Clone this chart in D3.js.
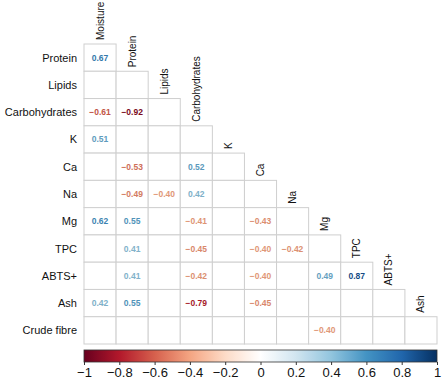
<!DOCTYPE html>
<html><head><meta charset="utf-8">
<script src="https://cdn.jsdelivr.net/npm/d3@7"></script>
<style>html,body{margin:0;padding:0;background:#fff;}svg{display:block;}</style>
</head><body>
<svg id="chart" width="445" height="389"></svg>
<script>
const columns = ["Moisture","Protein","Lipids","Carbohydrates","K","Ca","Na","Mg","TPC","ABTS+","Ash"];
const rows = ["Protein","Lipids","Carbohydrates","K","Ca","Na","Mg","TPC","ABTS+","Ash","Crude fibre"];
// significant correlations shown: [row, column, value]
const shownValues = [
  ["Protein","Moisture",0.67],
  ["Carbohydrates","Moisture",-0.61],["Carbohydrates","Protein",-0.92],
  ["K","Moisture",0.51],
  ["Ca","Protein",-0.53],["Ca","Carbohydrates",0.52],
  ["Na","Protein",-0.49],["Na","Lipids",-0.40],["Na","Carbohydrates",0.42],
  ["Mg","Moisture",0.62],["Mg","Protein",0.55],["Mg","Carbohydrates",-0.41],["Mg","Ca",-0.43],
  ["TPC","Protein",0.41],["TPC","Carbohydrates",-0.45],["TPC","Ca",-0.40],["TPC","Na",-0.42],
  ["ABTS+","Protein",0.41],["ABTS+","Carbohydrates",-0.42],["ABTS+","Ca",-0.40],["ABTS+","Mg",0.49],["ABTS+","TPC",0.87],
  ["Ash","Moisture",0.42],["Ash","Protein",0.55],["Ash","Carbohydrates",-0.79],["Ash","Ca",-0.45],
  ["Crude fibre","Mg",-0.40]
];
const colorTicks = [-1,-0.8,-0.6,-0.4,-0.2,0,0.2,0.4,0.6,0.8,1];
const paletteColors = ["#67001F","#B2182B","#D6604D","#F4A582","#FDDBC7","#FFFFFF","#D1E5F0","#92C5DE","#4393C3","#2166AC","#053061"];

(function () {
const svg = d3.select("#chart");
const gLeft = 84, gRight = 437, gTop = 44, gBottom = 344;
const x = d3.scaleBand().domain(columns).range([gLeft, gRight]);
const y = d3.scaleBand().domain(rows).range([gTop, gBottom]);
const color = d3.scaleLinear().domain(d3.range(11).map(i => -1 + i * 0.2)).range(paletteColors).clamp(true);
const textColor = v => d3.color(color(v)).darker(0.25);

const cells = [];
rows.forEach((r, i) => columns.forEach((c, j) => { if (j <= i) cells.push({r, c}); }));
svg.append("g").selectAll("rect").data(cells).join("rect")
  .attr("x", d => x(d.c)).attr("y", d => y(d.r))
  .attr("width", x.bandwidth()).attr("height", y.bandwidth())
  .attr("fill", "#fff").attr("stroke", "#cfcfcf").attr("stroke-width", 1);

svg.append("g").selectAll("text").data(shownValues).join("text")
  .attr("x", d => x(d[1]) + x.bandwidth() / 2)
  .attr("y", d => y(d[0]) + y.bandwidth() / 2)
  .attr("text-anchor", "middle").attr("dominant-baseline", "central")
  .attr("font-family", "Liberation Sans, Arial, sans-serif")
  .attr("font-size", 8.5).attr("font-weight", "bold")
  .attr("fill", d => textColor(d[2]))
  .text(d => d3.format(".2f")(d[2]).replace("-", "\u2212"));

svg.append("g").selectAll("text").data(rows).join("text")
  .attr("x", 77).attr("y", d => y(d) + y.bandwidth() / 2)
  .attr("text-anchor", "end").attr("dominant-baseline", "central")
  .attr("font-family", "Liberation Sans, Arial, sans-serif")
  .attr("font-size", 11).attr("fill", "#111")
  .text(d => d);

svg.append("g").selectAll("text").data(columns).join("text")
  .attr("transform", (d, j) => `translate(${x(d) + x.bandwidth() / 2},${y(rows[j]) - 4}) rotate(-90)`)
  .attr("text-anchor", "start").attr("dominant-baseline", "central")
  .attr("font-family", "Liberation Sans, Arial, sans-serif")
  .attr("font-size", 10).attr("fill", "#111")
  .text(d => d);

const cb = d3.scaleLinear().domain([-1, 1]).range([gLeft, gRight]);
const defs = svg.append("defs");
const grad = defs.append("linearGradient").attr("id", "cbgrad").attr("x1", "0%").attr("x2", "100%");
grad.selectAll("stop").data(d3.range(0, 101)).join("stop")
  .attr("offset", d => d + "%").attr("stop-color", d => color(-1 + d / 50));
const cbTop = 350, cbH = 12;
svg.append("rect").attr("x", cb(-1)).attr("y", cbTop).attr("width", cb(1) - cb(-1)).attr("height", cbH)
  .attr("fill", "url(#cbgrad)").attr("stroke", "#333").attr("stroke-width", 0.8);
const axis = d3.axisBottom(cb).tickValues(colorTicks).tickSize(3).tickPadding(3)
  .tickFormat(d => d === 0 ? "0" : String(d).replace("-", "\u2212"));
const ax = svg.append("g").attr("transform", `translate(0,${cbTop + cbH})`).call(axis);
ax.select(".domain").remove();
ax.selectAll("line").attr("stroke", "#333");
ax.selectAll("text").attr("font-family", "Liberation Sans, Arial, sans-serif").attr("font-size", 13).attr("fill", "#111");
})();
</script>
</body></html>
